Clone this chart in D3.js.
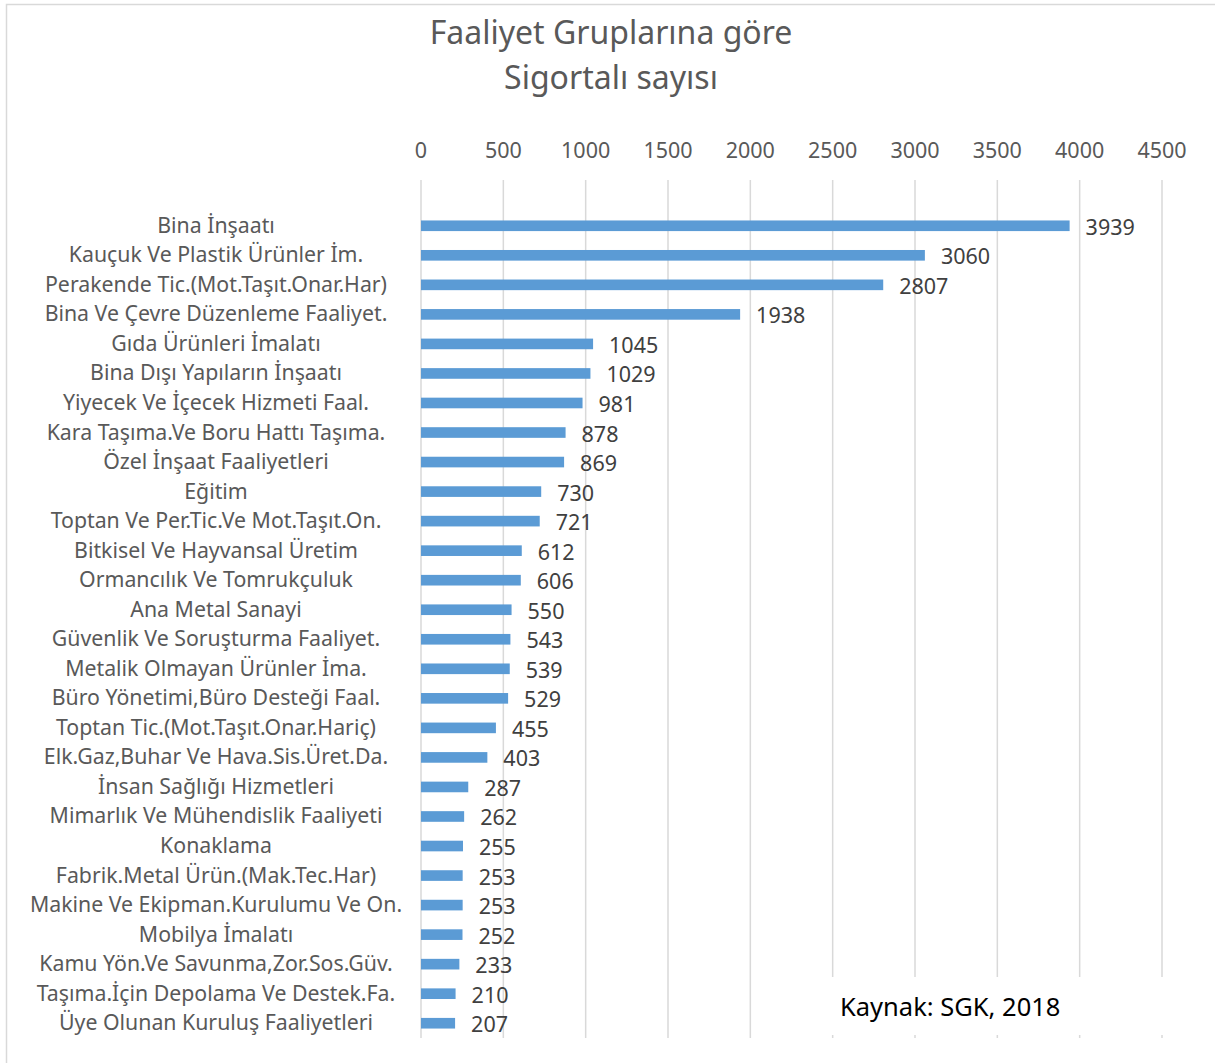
<!DOCTYPE html>
<html><head><meta charset="utf-8">
<script src="https://cdn.jsdelivr.net/npm/d3@7"></script>
<style>body{margin:0;background:#fff;} text{font-family:"Noto Sans",sans-serif;}</style>
</head><body>
<svg id="chart" width="1215" height="1063"></svg>
<script>
const categories = ["Bina İnşaatı","Kauçuk Ve Plastik Ürünler İm.","Perakende Tic.(Mot.Taşıt.Onar.Har)","Bina Ve Çevre Düzenleme Faaliyet.","Gıda Ürünleri İmalatı","Bina Dışı Yapıların İnşaatı","Yiyecek Ve İçecek Hizmeti Faal.","Kara Taşıma.Ve Boru Hattı Taşıma.","Özel İnşaat Faaliyetleri","Eğitim","Toptan Ve Per.Tic.Ve Mot.Taşıt.On.","Bitkisel Ve Hayvansal Üretim","Ormancılık Ve Tomrukçuluk","Ana Metal Sanayi","Güvenlik Ve Soruşturma Faaliyet.","Metalik Olmayan Ürünler İma.","Büro Yönetimi,Büro Desteği Faal.","Toptan Tic.(Mot.Taşıt.Onar.Hariç)","Elk.Gaz,Buhar Ve Hava.Sis.Üret.Da.","İnsan Sağlığı Hizmetleri","Mimarlık Ve Mühendislik Faaliyeti","Konaklama","Fabrik.Metal Ürün.(Mak.Tec.Har)","Makine Ve Ekipman.Kurulumu Ve On.","Mobilya İmalatı","Kamu Yön.Ve Savunma,Zor.Sos.Güv.","Taşıma.İçin Depolama Ve Destek.Fa.","Üye Olunan Kuruluş Faaliyetleri"];
const values = [3939,3060,2807,1938,1045,1029,981,878,869,730,721,612,606,550,543,539,529,455,403,287,262,255,253,253,252,233,210,207];
const ticks = [0,500,1000,1500,2000,2500,3000,3500,4000,4500];
const titleLines = ["Faaliyet Gruplarına göre","Sigortalı sayısı"];
const sourceText = "Kaynak: SGK, 2018";

const svg = d3.select("#chart");
svg.append("rect").attr("x",6.5).attr("y",4.5).attr("width",1220).attr("height",1070)
  .attr("fill","#fff").attr("stroke","#d9d9d9").attr("stroke-width",1.5);

const x = d3.scaleLinear().domain([0,4500]).range([421,1162]);
const y = d3.scaleBand().domain(categories).range([211,1038]).paddingInner(0.64).paddingOuter(0.32);
const gridTop = 180, gridBottom = 1038;

svg.append("g").selectAll("line").data(ticks).join("line")
  .attr("x1",d=>x(d)).attr("x2",d=>x(d)).attr("y1",gridTop).attr("y2",gridBottom)
  .attr("stroke","#d9d9d9").attr("stroke-width",1.5);

svg.append("g").selectAll("text").data(ticks).join("text")
  .attr("x",d=>x(d)).attr("y",158).attr("text-anchor","middle")
  .attr("font-size",21.5).attr("fill","#595959").text(d=>d);

svg.append("g").selectAll("rect").data(values).join("rect")
  .attr("x",x(0)).attr("y",(d,i)=>y(categories[i]))
  .attr("width",d=>x(d)-x(0)).attr("height",y.bandwidth())
  .attr("fill","#5b9bd5");

svg.append("g").selectAll("text").data(values).join("text")
  .attr("x",d=>x(d)+16).attr("y",(d,i)=>y(categories[i])+y.bandwidth()/2+9)
  .attr("font-size",21.5).attr("fill","#404040").text(d=>d);

svg.append("g").selectAll("text").data(categories).join("text")
  .attr("x",216).attr("y",d=>y(d)+y.bandwidth()/2+7)
  .attr("text-anchor","middle").attr("font-size",21.3).attr("fill","#595959").text(d=>d);

svg.append("g").selectAll("text").data(titleLines).join("text")
  .attr("x",611).attr("y",(d,i)=>44+i*45).attr("text-anchor","middle")
  .attr("font-size",32).attr("fill","#595959").text(d=>d);

svg.append("rect").attr("x",830).attr("y",977).attr("width",340).attr("height",58).attr("fill","#fff");
svg.append("text").attr("x",840).attr("y",1016).attr("font-size",25.5).attr("fill","#000").text(sourceText);
</script>
</body></html>
